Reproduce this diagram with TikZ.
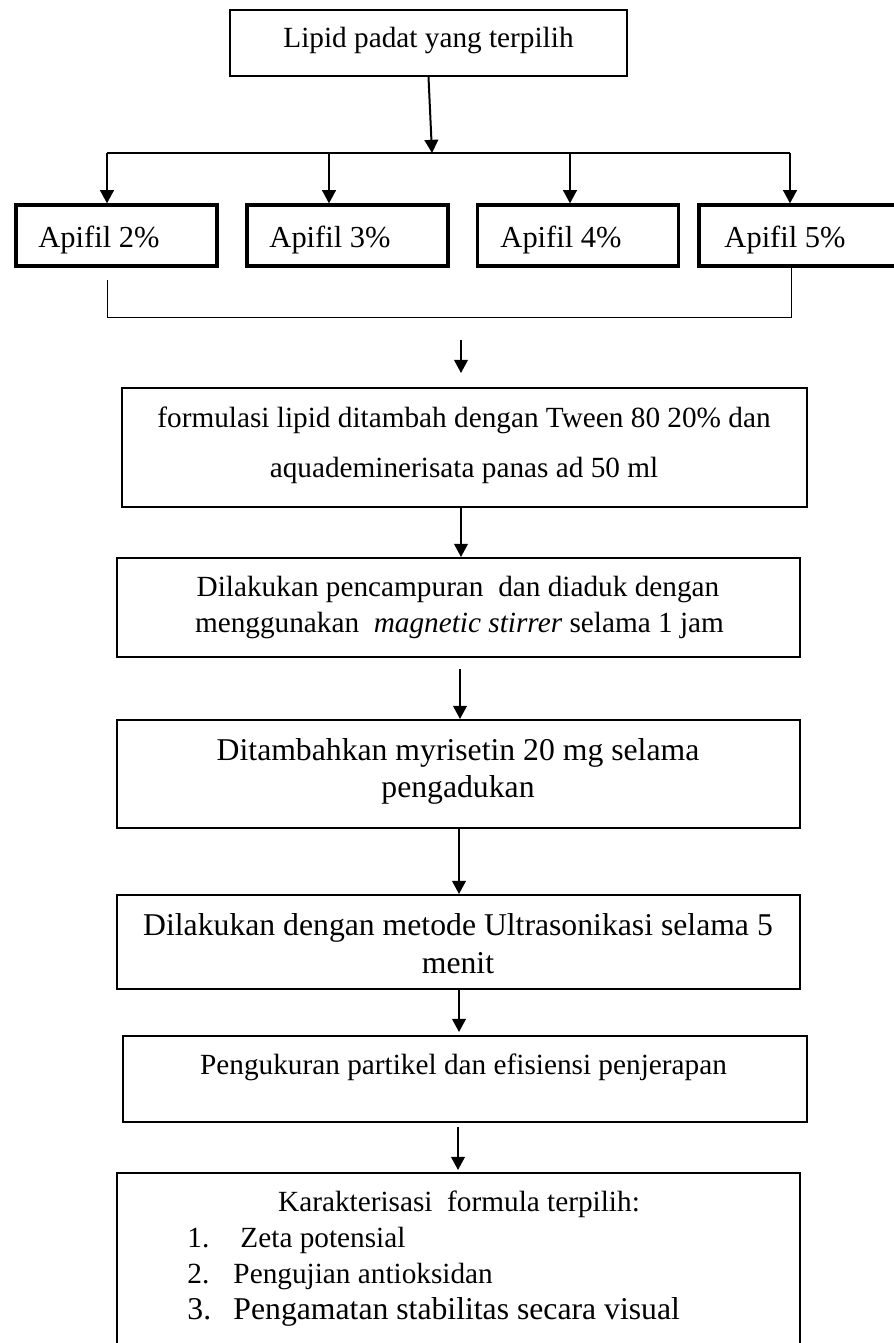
\documentclass[tikz,border=0pt]{standalone}
\usepackage{fontspec}
\setmainfont{Liberation Serif}
\usetikzlibrary{arrows.meta}
\newdimen\pxu \pxu=0.41pt
\begin{document}
\begin{tikzpicture}[x=0.41pt,y=-0.41pt,
  boxthin/.style={draw, line width=0.82pt, inner sep=0pt, rectangle},
  boxthick/.style={draw, line width=1.35pt, inner sep=0pt, rectangle, minimum width=201\pxu, minimum height=61\pxu},
  txt/.style={anchor=base, inner sep=0pt, font=\fontsize{12}{14}\selectfont},
  txtb/.style={anchor=base, inner sep=0pt, font=\fontsize{13}{15}\selectfont},
  txtc/.style={anchor=base west, inner sep=0pt, font=\fontsize{12.5}{15}\selectfont},
  arr/.style={line width=0.82pt, -{Triangle[length=5.4pt,width=5.6pt]}},
  ln/.style={line width=0.82pt},
  thinln/.style={line width=0.41pt}]
\useasboundingbox (0,0) rectangle (894,1343);
\clip (0,0) rectangle (894,1343);

% boxes
\node[boxthin, minimum width=397\pxu, minimum height=66\pxu] (top) at (428.5,43) {};
\node[boxthick] (a1) at (116.5,235.5) {};
\node[boxthick] (a2) at (347.5,235.5) {};
\node[boxthick] (a3) at (578,235.5) {};
\node[boxthick] (a4) at (799.5,235.5) {};
\node[boxthin, minimum width=685\pxu, minimum height=119\pxu] (b2) at (464.5,447.5) {};
\node[boxthin, minimum width=683\pxu, minimum height=99\pxu] (b3) at (458.5,607.5) {};
\node[boxthin, minimum width=683\pxu, minimum height=108\pxu] (b4) at (458.5,774) {};
\node[boxthin, minimum width=683\pxu, minimum height=94\pxu] (b5) at (458.5,942) {};
\node[boxthin, minimum width=684\pxu, minimum height=86\pxu] (b6) at (465,1079) {};
\node[boxthin, minimum width=683\pxu, minimum height=187\pxu] (b7) at (458.5,1266.5) {};

% texts
\node[txt] (t0) at (428.5,47) {Lipid padat yang terpilih};
\node[txtc] (ta1) at (38,247) {Apifil 2\%};
\node[txtc] (ta2) at (269,247) {Apifil 3\%};
\node[txtc] (ta3) at (500,247) {Apifil 4\%};
\node[txtc] (ta4) at (724,247) {Apifil 5\%};
\node[txt] (t2a) at (464,427) {formulasi lipid ditambah dengan Tween 80 20\% dan};
\node[txt] (t2b) at (464,477) {aquademinerisata panas ad 50 ml};
\node[txt] (t3a) at (458,596) {Dilakukan pencampuran\ \ dan diaduk dengan};
\node[txt] (t3b) at (459.5,632) {menggunakan\ \ \textit{magnetic stirrer} selama 1 jam};
\node[txtb] (t4a) at (458,760) {Ditambahkan myrisetin 20 mg selama};
\node[txtb] (t4b) at (458,797) {pengadukan};
\node[txtb] (t5a) at (458,935) {Dilakukan dengan metode Ultrasonikasi selama 5};
\node[txtb] (t5b) at (458,973) {menit};
\node[txt] (t6) at (463.5,1074) {Pengukuran partikel dan efisiensi penjerapan};
\node[txt] (t7) at (459,1211) {Karakterisasi\ \ formula terpilih:};
\node[txt, anchor=base west] (n1) at (187,1247) {1.};
\node[txt, anchor=base west] (i1) at (240,1247) {Zeta potensial};
\node[txt, anchor=base west] (n2) at (187,1283) {2.};
\node[txt, anchor=base west] (i2) at (233,1283) {Pengujian antioksidan};
\node[txtb, anchor=base west] (n3) at (187,1319) {3.};
\node[txtb, anchor=base west] (i3) at (233,1319) {Pengamatan stabilitas secara visual};

% connectors
\coordinate (j1) at (432,153);
\draw[arr] (top.south) -- (j1);
\coordinate (h1) at (107,153);
\coordinate (h2) at (329,153);
\coordinate (h3) at (570,153);
\coordinate (h4) at (790,153);
\draw[ln] (h1) -- (h4);
\draw[arr] (h1) -- (h1 |- a1.north);
\draw[arr] (h2) -- (h2 |- a2.north);
\draw[arr] (h3) -- (h3 |- a3.north);
\draw[arr] (h4) -- (h4 |- a4.north);

\coordinate (bl) at (107,280);
\coordinate (bc) at (791,317);
\draw[thinln] (bl) |- (bc) -- (bc |- a4.south);

\coordinate (m1) at (461,340);
\coordinate (m1e) at (461,373);
\draw[arr] (m1) -- (m1e);
\coordinate (c2) at (461,0);
\draw[arr] (b2.south -| c2) -- (b3.north -| c2);
\coordinate (m3) at (460,669);
\draw[arr] (m3) -- (m3 |- b4.north);
\coordinate (c4) at (459,0);
\draw[arr] (b4.south -| c4) -- (b5.north -| c4);
\coordinate (m5e) at (459,1032);
\draw[arr] (b5.south -| m5e) -- (m5e);
\coordinate (m6) at (458,1127);
\coordinate (m6e) at (458,1170);
\draw[arr] (m6) -- (m6e);
\end{tikzpicture}
\end{document}
